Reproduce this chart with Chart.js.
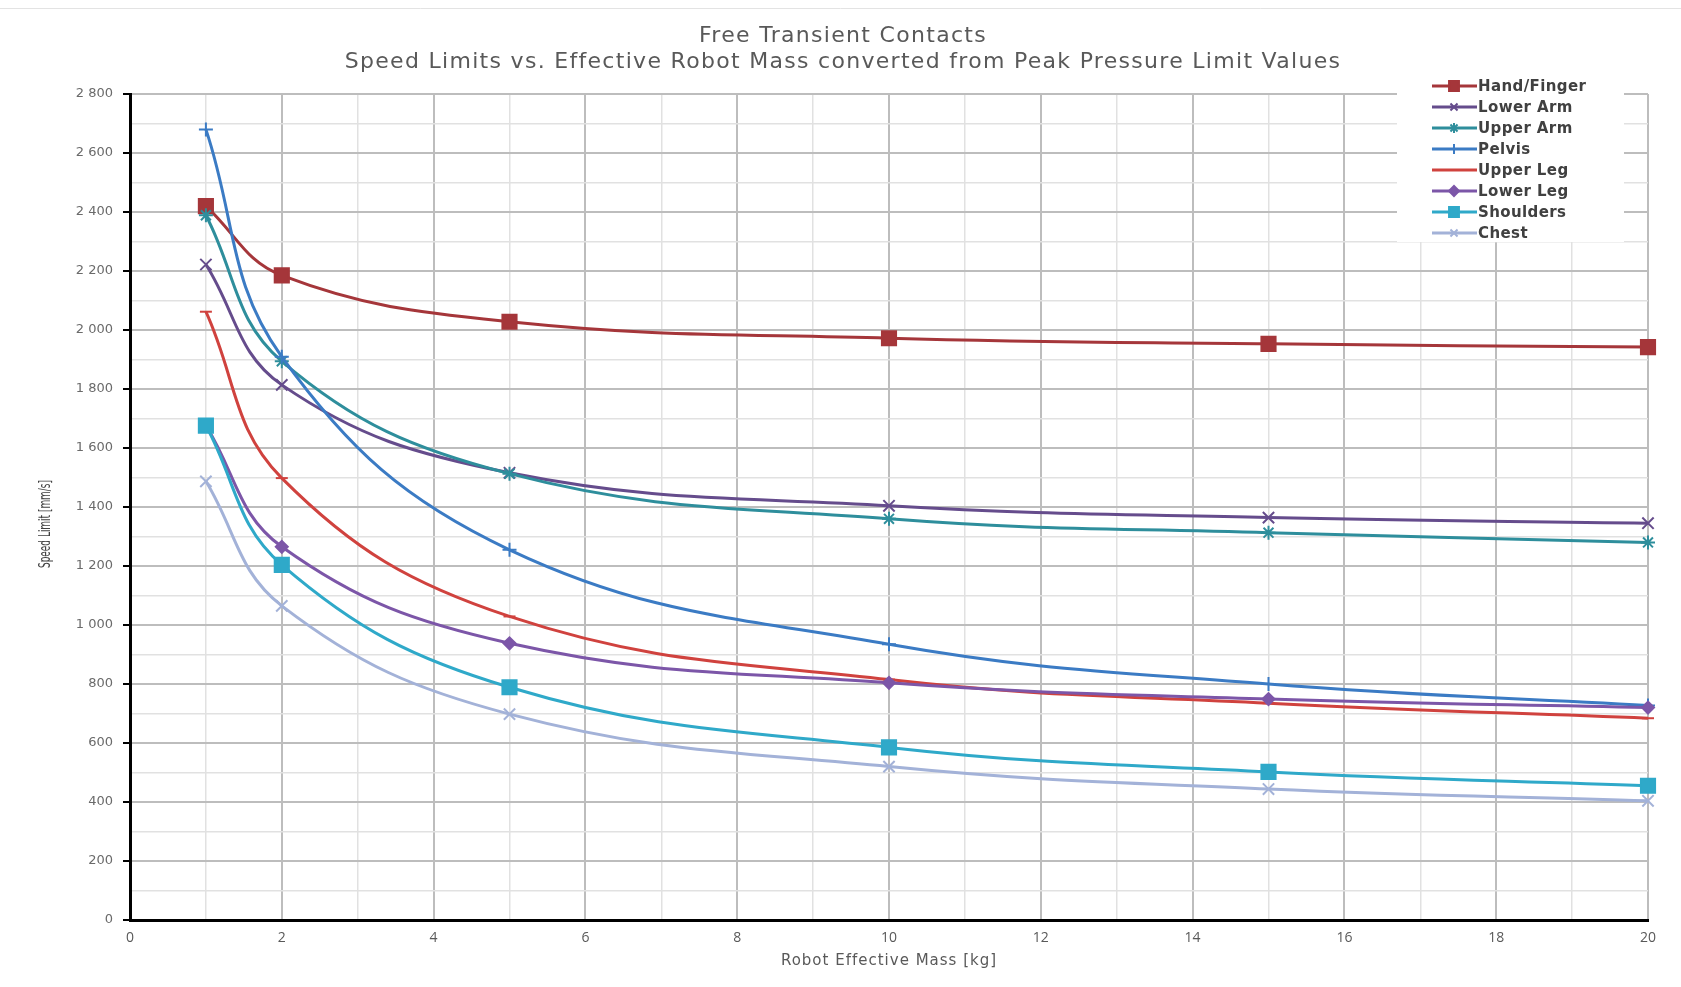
<!DOCTYPE html>
<html>
<head>
<meta charset="utf-8">
<script src="https://cdn.jsdelivr.net/npm/chart.js@4.4.0/dist/chart.umd.min.js"></script>
<style>
  html, body { margin: 0; padding: 0; background: #fff; }
  #chart { display: block; }
</style>
</head>
<body>
<canvas id="chart" width="1681" height="987"></canvas>
<script>
// data
const masses = [1, 2, 5, 10, 15, 20];
const handFinger = [2420, 2185, 2028, 1972, 1953, 1942];
const lowerArm = [2222, 1814, 1516, 1404, 1364, 1345];
const upperArm = [2389, 1894, 1513, 1360, 1313, 1280];
const pelvis = [2680, 1909, 1255, 935, 800, 727];
const upperLeg = [2062, 1498, 1029, 815, 735, 684];
const lowerLeg = [1676, 1265, 938, 804, 749, 720];
const shoulders = [1676, 1204, 789, 585, 502, 455];
const chest = [1487, 1065, 698, 520, 444, 404];

const seriesNames = ['Hand/Finger', 'Lower Arm', 'Upper Arm', 'Pelvis', 'Upper Leg', 'Lower Leg', 'Shoulders', 'Chest'];
const seriesValues = [handFinger, lowerArm, upperArm, pelvis, upperLeg, lowerLeg, shoulders, chest];
const seriesColors = ['#A5363A', '#654C8C', '#2E8E9C', '#3B7BC4', '#D0423E', '#7C56A8', '#2FA9C9', '#A3B2D8'];
const seriesMarkers = ['rect', 'crossRot', 'star', 'cross', 'line', 'rectRot', 'rect', 'crossRot'];
const markerSizes = [10, 8, 7, 7, 6, 6, 10, 8];

const titleLines = ['Free Transient Contacts', 'Speed Limits vs. Effective Robot Mass converted from Peak Pressure Limit Values'];
const xTitle = 'Robot Effective Mass [kg]';
const yTitle = 'Speed Limit [mm/s]';

function fmtSpeed(v) {
  if (v >= 1000) {
    let rest = String(v % 1000);
    while (rest.length < 3) rest = '0' + rest;
    return Math.floor(v / 1000) + ' ' + rest;
  }
  return String(v);
}

// later series on top, like the spreadsheet does it
let datasets = seriesNames.map((name, i) => ({
  label: name,
  data: masses.map((m, j) => ({ x: m, y: seriesValues[i][j] })),
  order: seriesNames.length - i,
  borderColor: seriesColors[i],
  backgroundColor: seriesColors[i],
  borderWidth: 3,
  tension: 0.4,
  pointStyle: seriesMarkers[i],
  pointRadius: markerSizes[i],
  pointBorderWidth: 2,
  pointBorderColor: seriesColors[i],
  pointBackgroundColor: seriesColors[i],
  clip: false
}));

// titles drawn by hand so the letter spacing can match
const titles = {
  id: 'titles',
  afterDraw(chart) {
    let ctx = chart.ctx;
    let area = chart.chartArea;
    ctx.save();
    ctx.fillStyle = '#595959';
    ctx.textAlign = 'center';
    ctx.textBaseline = 'middle';
    ctx.font = '22px "DejaVu Sans"';
    ctx.letterSpacing = '1.3px';
    ctx.fillText(titleLines[0], 843, 36);
    ctx.fillText(titleLines[1], 843, 62);

    ctx.font = '15px "DejaVu Sans"';
    ctx.letterSpacing = '1px';
    ctx.fillText(xTitle, (area.left + area.right) / 2, 961);

    ctx.letterSpacing = '0px';
    ctx.font = '15px "DejaVu Sans Condensed", "DejaVu Sans"';
    let w = ctx.measureText(yTitle).width;
    ctx.translate(46, 524);
    ctx.rotate(-Math.PI / 2);
    ctx.scale(88 / w, 1);
    ctx.fillStyle = '#404040';
    ctx.fillText(yTitle, 0, 0);
    ctx.restore();
  }
};

// legend drawn by hand: white box in the top right corner
const boxLegend = {
  id: 'boxLegend',
  afterDraw(chart) {
    let ctx = chart.ctx;
    ctx.save();
    ctx.fillStyle = '#fff';
    ctx.fillRect(1397, 70, 227, 172);
    chart.data.datasets.forEach((ds, i) => {
      let y = 86 + i * 21;
      ctx.strokeStyle = ds.borderColor;
      ctx.lineWidth = 3;
      ctx.beginPath();
      ctx.moveTo(1432, y);
      ctx.lineTo(1477, y);
      ctx.stroke();
      if (ds.pointStyle != 'line' && Chart.helpers && Chart.helpers.drawPoint) {
        ctx.fillStyle = ds.borderColor;
        ctx.lineWidth = 2;
        let r = ds.pointStyle == 'rect' ? 7 : 5;
        Chart.helpers.drawPoint(ctx, { pointStyle: ds.pointStyle, radius: r, rotation: 0, borderWidth: 2 }, 1454, y);
      }
      ctx.fillStyle = '#404040';
      ctx.font = 'bold 15px "DejaVu Sans"';
      ctx.letterSpacing = '0.4px';
      ctx.textBaseline = 'middle';
      ctx.textAlign = 'left';
      ctx.fillText(ds.label, 1478, y + 1);
    });
    ctx.restore();
  }
};

const frameLine = {
  id: 'frameLine',
  beforeDraw(chart) {
    let ctx = chart.ctx;
    ctx.save();
    ctx.strokeStyle = '#E3E3E3';
    ctx.lineWidth = 1;
    ctx.beginPath();
    ctx.moveTo(0, 8.5);
    ctx.lineTo(1681, 8.5);
    ctx.stroke();
    ctx.restore();
  }
};

const myChart = new Chart(document.getElementById('chart'), {
  type: 'line',
  data: { datasets: datasets },
  plugins: [frameLine, boxLegend, titles],
  options: {
    responsive: false,
    animation: false,
    layout: { padding: { left: 0, right: 33, top: 94, bottom: 0 } },
    plugins: {
      legend: { display: false },
      tooltip: { enabled: false },
      title: { display: false }
    },
    scales: {
      x: {
        type: 'linear',
        min: 0,
        max: 20,
        afterFit: (scale) => { scale.height = 67; },
        border: { color: '#000', width: 3 },
        grid: {
          drawTicks: false,
          color: (c) => (c.tick && c.tick.value % 2 === 0) ? '#BDBDBD' : '#E1E1E1',
          lineWidth: (c) => (c.tick && c.tick.value % 2 === 0) ? 2 : 1.5
        },
        ticks: {
          stepSize: 1,
          autoSkip: false,
          maxRotation: 0,
          padding: 10,
          color: '#595959',
          font: { family: '"Open Sans"', size: 14 },
          callback: (v) => v % 2 === 0 ? String(v) : ''
        }
      },
      y: {
        min: 0,
        max: 2800,
        afterFit: (scale) => { scale.width = 130; },
        border: { color: '#000', width: 3 },
        grid: {
          tickLength: 7,
          tickColor: (c) => (c.tick && c.tick.value % 200 === 0) ? '#000' : 'rgba(0,0,0,0)',
          tickWidth: 2,
          color: (c) => (c.tick && c.tick.value % 200 === 0) ? '#BDBDBD' : '#E1E1E1',
          lineWidth: (c) => (c.tick && c.tick.value % 200 === 0) ? 2 : 1.5
        },
        ticks: {
          stepSize: 100,
          autoSkip: false,
          padding: 10,
          color: '#6A6A6A',
          font: { family: '"DejaVu Sans"', size: 13 },
          callback: (v) => v % 200 === 0 ? fmtSpeed(v) : ''
        }
      }
    }
  }
});
</script>
</body>
</html>
